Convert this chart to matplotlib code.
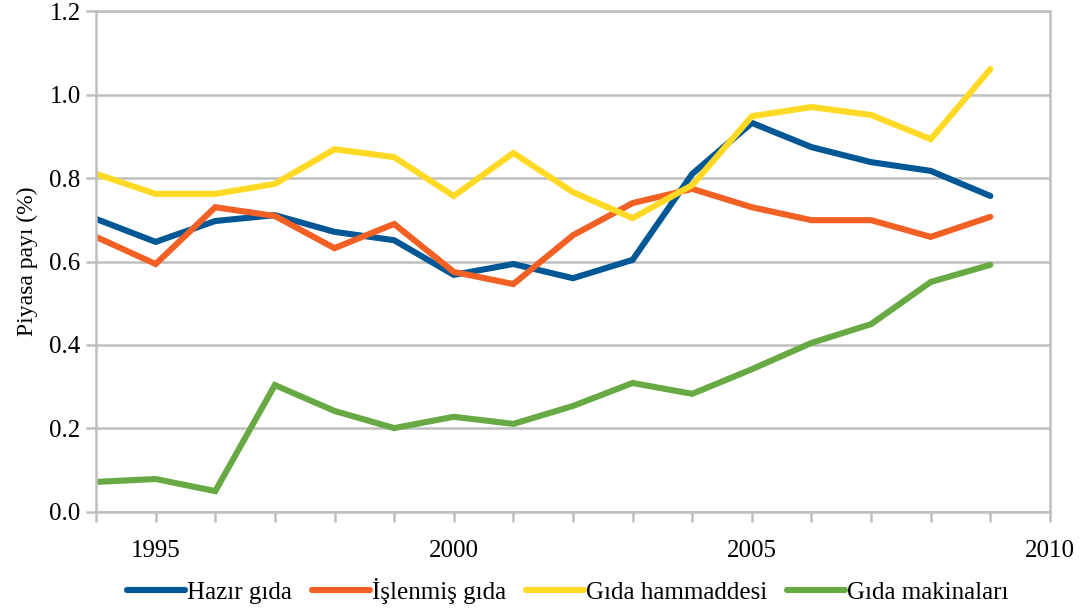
import matplotlib.pyplot as plt
from matplotlib.ticker import MultipleLocator, FormatStrFormatter

plt.rcParams['font.family'] = ['Liberation Serif', 'DejaVu Serif']

yillar = list(range(1994, 2010))

hazir_gida = [0.702, 0.647, 0.697, 0.711, 0.671, 0.651, 0.568, 0.594,
              0.560, 0.604, 0.810, 0.932, 0.874, 0.838, 0.817, 0.757]

islenmis_gida = [0.659, 0.594, 0.730, 0.709, 0.632, 0.690, 0.575, 0.546,
                 0.663, 0.740, 0.774, 0.730, 0.699, 0.699, 0.659, 0.707]

gida_hammaddesi = [0.810, 0.762, 0.762, 0.786, 0.869, 0.850, 0.757, 0.860,
                   0.766, 0.704, 0.783, 0.948, 0.970, 0.951, 0.893, 1.061]

gida_makinalari = [0.072, 0.079, 0.050, 0.304, 0.242, 0.201, 0.228, 0.211,
                   0.254, 0.309, 0.283, 0.342, 0.405, 0.450, 0.551, 0.592]

seriler = [
    ('Hazır gıda', hazir_gida, '#005796'),
    ('İşlenmiş gıda', islenmis_gida, '#F26024'),
    ('Gıda hammaddesi', gida_hammaddesi, '#FFD923'),
    ('Gıda makinaları', gida_makinalari, '#67A942'),
]

gri = '#BFBFBF'

fig = plt.figure(figsize=(10.8, 6.13), dpi=100)
ax = fig.add_axes([0.0889, 0.1648, 0.8833, 0.8172])

for ad, deger, renk in seriler:
    ax.plot(yillar, deger, color=renk, lw=4.4, label=ad,
            solid_joinstyle='miter', solid_capstyle='round')

ax.set_xlim(1994, 2010)
ax.set_ylim(0, 1.2)

ax.xaxis.set_major_locator(MultipleLocator(5))
ax.xaxis.set_minor_locator(MultipleLocator(1))
ax.yaxis.set_major_locator(MultipleLocator(0.2))
ax.yaxis.set_major_formatter(FormatStrFormatter('%.1f'))

ax.grid(axis='y', color=gri, lw=1.8)
ax.set_axisbelow(True)
for s in ax.spines.values():
    s.set_color(gri)
    s.set_linewidth(1.8)

ax.tick_params(axis='x', which='both', length=7, width=1.8, color=gri,
               labelsize=18, pad=13)
ax.tick_params(axis='y', length=7, width=1.8, color=gri, labelsize=18, pad=4)

ax.set_ylabel('Piyasa payı (%)', fontsize=17, labelpad=8)

fig.legend(loc='lower center', ncol=4, frameon=False, fontsize=18,
           bbox_to_anchor=(0.526, -0.022), handlelength=2.3, handletextpad=0.1,
           columnspacing=0.8)

plt.savefig('out.png', dpi=100)
